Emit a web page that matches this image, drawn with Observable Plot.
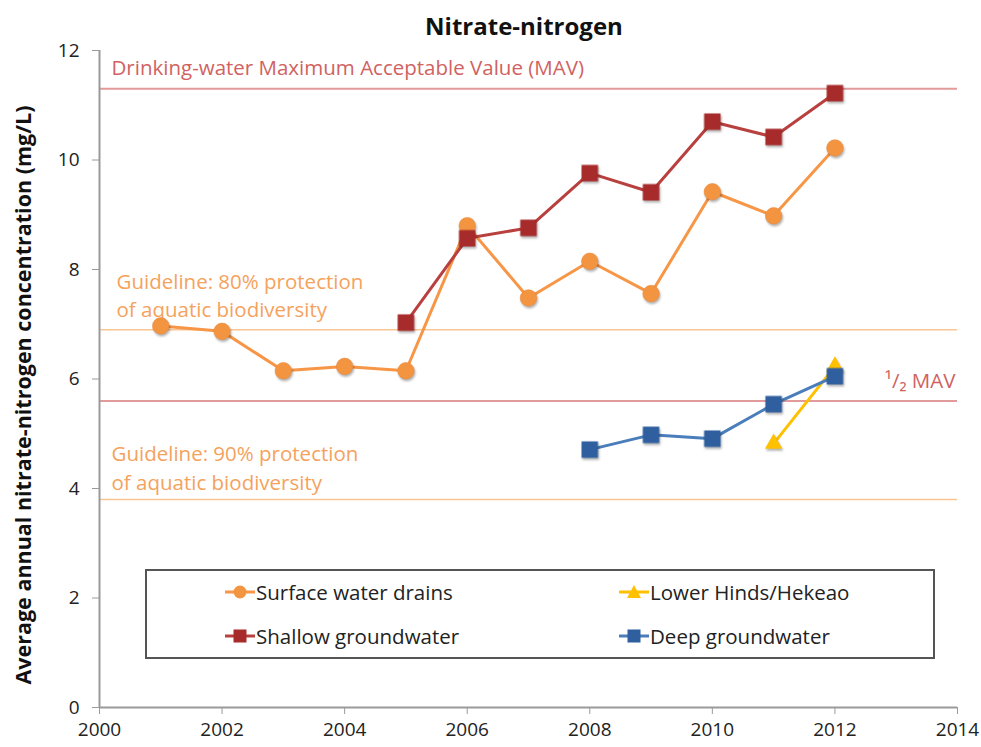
<!DOCTYPE html>
<html>
<head>
<meta charset="utf-8">
<script src="https://cdn.jsdelivr.net/npm/d3@7"></script>
<script src="https://cdn.jsdelivr.net/npm/@observablehq/plot@0.6"></script>
<style>
  html, body { margin: 0; padding: 0; background: #fff; }
  #wrap { position: relative; width: 981px; height: 747px; font-family: "Open Sans", Lato, sans-serif; }
  #title { position: absolute; left: 0; width: 1048px; top: 9px; text-align: center; font-weight: bold; font-size: 24px; color: #111; }
  #ylabel { position: absolute; left: 22px; top: 395px; transform: translate(-50%, -50%) rotate(-90deg); white-space: nowrap; font-weight: bold; font-size: 21.5px; color: #111; }
  #legend { position: absolute; left: 145px; top: 569px; width: 786px; height: 86px; border: 2px solid #555; box-sizing: content-box; }
  .item { position: absolute; display: flex; align-items: center; font-size: 20.5px; color: #222; }
  .item svg { margin-right: 1px; }
  .chart g[aria-label="dot"] { filter: drop-shadow(1px 2px 1.2px rgba(0,0,0,0.3)); }
</style>
</head>
<body>
<div id="wrap">
  <div id="chart"></div>
  <div id="title">Nitrate-nitrogen</div>
  <div id="ylabel">Average annual nitrate-nitrogen concentration (mg/L)</div>
  <div id="legend"></div>
</div>
<script>
// ---- Data ----
const surfaceYears  = [2001, 2002, 2003, 2004, 2005, 2006, 2007, 2008, 2009, 2010, 2011, 2012];
const surfaceValues = [6.97, 6.87, 6.15, 6.23, 6.15, 8.80, 7.48, 8.15, 7.56, 9.42, 8.98, 10.22];

const shallowYears  = [2005, 2006, 2007, 2008, 2009, 2010, 2011, 2012];
const shallowValues = [7.03, 8.57, 8.76, 9.76, 9.41, 10.70, 10.42, 11.22];

const deepYears  = [2008, 2009, 2010, 2011, 2012];
const deepValues = [4.71, 4.98, 4.91, 5.54, 6.05];

const lowerYears  = [2011, 2012];
const lowerValues = [4.82, 6.23];

const MAV = 11.3;
const HALF_MAV = 5.6;
const G80 = 6.9;
const G90 = 3.8;

const xTicks = [2000, 2002, 2004, 2006, 2008, 2010, 2012, 2014];
const yTicks = [0, 2, 4, 6, 8, 10, 12];

const seriesNames = ["Surface water drains", "Lower Hinds/Hekeao", "Shallow groundwater", "Deep groundwater"];

const toRows = (years, values) => years.map((x, i) => ({x, y: values[i]}));
const surface = toRows(surfaceYears, surfaceValues);
const shallow = toRows(shallowYears, shallowValues);
const deep = toRows(deepYears, deepValues);
const lower = toRows(lowerYears, lowerValues);

const C = {
  surface: "#F79646", surfaceDot: "#F39540",
  shallowLine: "#B8403E", shallowDot: "#A82B2B",
  deepLine: "#4A7EBB", deepDot: "#2F5F9E",
  lower: "#FFC000",
  mavLine: "#E39A9A", mavText: "#D0625F",
  halfLine: "#D97A7A",
  gLine: "#F9C592", gText: "#F5A25D"
};

const FS = 20.5;

const chart = Plot.plot({
  className: "chart",
  width: 981, height: 747,
  marginLeft: 99, marginRight: 24, marginTop: 50, marginBottom: 40,
  style: { fontFamily: "'Open Sans', Lato, sans-serif", fontSize: "19px", background: "transparent", color: "#222", overflow: "visible" },
  x: { domain: [2000, 2014], ticks: xTicks, tickFormat: d => String(d), tickSize: 7, tickPadding: 8, label: null },
  y: { domain: [0, 12], ticks: yTicks, tickSize: 7, tickPadding: 13, label: null },
  marks: [
    // reference lines
    Plot.ruleY([MAV], { stroke: C.mavLine, strokeWidth: 2 }),
    Plot.ruleY([HALF_MAV], { stroke: C.halfLine, strokeWidth: 1.5 }),
    Plot.ruleY([G80], { stroke: C.gLine, strokeWidth: 1.5 }),
    Plot.ruleY([G90], { stroke: C.gLine, strokeWidth: 1.5 }),
    // axis lines
    Plot.ruleX([2000], { stroke: "#9a9a9a", strokeWidth: 2 }),
    Plot.ruleY([0], { stroke: "#9a9a9a", strokeWidth: 2 }),
    // annotations
    Plot.text([MAV], { x: () => 2000, y: d => d, text: () => "Drinking-water Maximum Acceptable Value (MAV)", textAnchor: "start", dx: 12, dy: -20, fill: C.mavText, fontSize: FS }),
    Plot.text([G80], { x: () => 2000, y: d => d, text: () => "Guideline: 80% protection\nof aquatic biodiversity", textAnchor: "start", lineAnchor: "bottom", lineHeight: 1.37, dx: 17, dy: -13, fill: C.gText, fontSize: FS }),
    Plot.text([G90], { x: () => 2000, y: d => d, text: () => "Guideline: 90% protection\nof aquatic biodiversity", textAnchor: "start", lineAnchor: "bottom", lineHeight: 1.42, dx: 12, dy: -9, fill: C.gText, fontSize: FS }),
    Plot.text([HALF_MAV], { x: () => 2014, y: d => d, text: () => "\u00B9/\u2082 MAV", textAnchor: "end", dx: -2, dy: -19, fill: C.mavText, fontSize: FS }),
    // series
    Plot.line(surface, { x: "x", y: "y", stroke: C.surface, strokeWidth: 3 }),
    Plot.dot(surface, { x: "x", y: "y", r: 8.3, fill: C.surfaceDot, stroke: "#E8873A", strokeWidth: 0.5, symbol: "circle" }),
    Plot.line(lower, { x: "x", y: "y", stroke: C.lower, strokeWidth: 3 }),
    Plot.dot(lower, { x: "x", y: "y", r: 6.5, fill: C.lower, symbol: "triangle" }),
    Plot.line(shallow, { x: "x", y: "y", stroke: C.shallowLine, strokeWidth: 3 }),
    Plot.dot(shallow, { x: "x", y: "y", r: 9.3, fill: C.shallowDot, symbol: "square" }),
    Plot.line(deep, { x: "x", y: "y", stroke: C.deepLine, strokeWidth: 3 }),
    Plot.dot(deep, { x: "x", y: "y", r: 9.3, fill: C.deepDot, symbol: "square" })
  ]
});
document.getElementById("chart").appendChild(chart);

// style axis ticks grey, labels dark
chart.querySelectorAll('[aria-label$="axis"] path, [aria-label$="axis tick"] path, [aria-label$="axis"] line').forEach(p => p.setAttribute("stroke", "#9a9a9a"));

// ---- Legend (HTML) ----
const legendDefs = [
  { name: seriesNames[0], line: C.surface, fill: C.surfaceDot, shape: "circle", left: 78, top: 7 },
  { name: seriesNames[1], line: C.lower, fill: C.lower, shape: "triangle", left: 472, top: 7 },
  { name: seriesNames[2], line: C.shallowLine, fill: C.shallowDot, shape: "square", left: 78, top: 51 },
  { name: seriesNames[3], line: C.deepLine, fill: C.deepDot, shape: "square", left: 472, top: 51 }
];
const legend = document.getElementById("legend");
for (const d of legendDefs) {
  const div = document.createElement("div");
  div.className = "item";
  div.style.left = d.left + "px";
  div.style.top = d.top + "px";
  let shape;
  if (d.shape === "circle") shape = `<circle cx="15" cy="12" r="6.5" fill="${d.fill}"/>`;
  else if (d.shape === "square") shape = `<rect x="8.5" y="5.5" width="13" height="13" fill="${d.fill}"/>`;
  else shape = `<path d="M15,5 L22,18 L8,18 Z" fill="${d.fill}"/>`;
  div.innerHTML = `<svg width="30" height="24"><line x1="0" y1="12" x2="30" y2="12" stroke="${d.line}" stroke-width="3"/>${shape}</svg><span>${d.name}</span>`;
  legend.appendChild(div);
}
</script>
</body>
</html>
